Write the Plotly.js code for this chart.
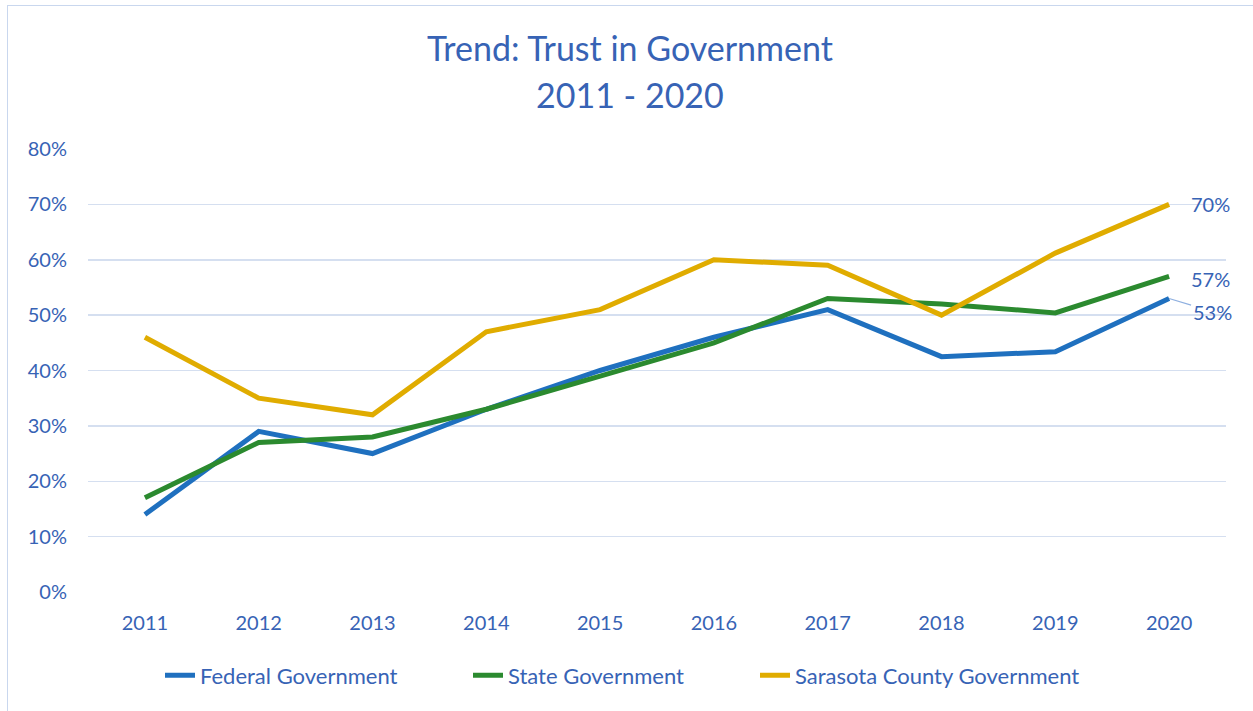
<!DOCTYPE html>
<html><head><meta charset="utf-8">
<script src="https://cdn.plot.ly/plotly-3.0.1.min.js"></script>
<style>
html,body{margin:0;padding:0;background:#fff;}
#frame{position:absolute;left:7px;top:5px;width:1260px;height:720px;border:1.5px solid #c9d7ee;box-sizing:border-box;}
#chart{position:absolute;left:0;top:0;width:1253px;height:711px;}
</style></head>
<body>
<div id="frame"></div>
<div id="chart"></div>
<script>
const years = ['2011','2012','2013','2014','2015','2016','2017','2018','2019','2020'];
const federal = [0.14,0.29,0.25,0.33,0.40,0.46,0.51,0.425,0.434,0.53];
const state = [0.17,0.27,0.28,0.33,0.39,0.45,0.53,0.52,0.504,0.57];
const sarasota = [0.46,0.35,0.32,0.47,0.51,0.60,0.59,0.50,0.612,0.70];
const seriesNames = ['Federal Government','State Government','Sarasota County Government'];
const titleLines = ['Trend: Trust in Government','2011 - 2020'];
const colors = ['#1f70bf','#2b8a2f','#e0ac00'];
const txt = '#3763b5';
const font = 'Lato, "Open Sans", sans-serif';
const legendIds = ['legend','legend2','legend3'];
const legendX = [160, 468, 755];

const traces = [federal, state, sarasota].map((v,i)=>({
  x: years, y: v, type:'scatter', mode:'lines', name: seriesNames[i], legend: legendIds[i],
  line:{color:colors[i], width:5}
}));

const last = years.length-1;
const pct = v => Math.round(v*100)+'%';
const layout = {
  width:1253, height:711,
  paper_bgcolor:'rgba(0,0,0,0)', plot_bgcolor:'rgba(0,0,0,0)',
  margin:{l:88, r:27, t:149, b:119},
  font:{family:font, color:txt},
  xaxis:{type:'category', range:[-0.5,9.5], showgrid:false, zeroline:false, showline:false,
         ticks:'', tickfont:{size:20, color:txt}, ticklabelstandoff:17},
  yaxis:{range:[0,0.8], dtick:0.1, tickformat:'.0%', gridcolor:'#d5dff0', gridwidth:1.5,
         zeroline:false, showline:false, tickfont:{size:20, color:txt}, ticklabelstandoff:20},
  showlegend:true,
  annotations:[
    {xref:'paper', yref:'paper', x:0.476, y:1.228, yanchor:'middle', text:titleLines[0], showarrow:false, font:{size:34,color:txt}},
    {xref:'paper', yref:'paper', x:0.476, y:1.122, yanchor:'middle', text:titleLines[1], showarrow:false, font:{size:34,color:txt}},
    {xref:'x', yref:'y', x:last, y:sarasota[last], text:pct(sarasota[last]), showarrow:false, xanchor:'left', xshift:20, font:{size:20,color:txt}},
    {xref:'x', yref:'y', x:last, y:state[last], text:pct(state[last]), showarrow:false, xanchor:'left', xshift:20, yshift:-3, font:{size:20,color:txt}},
    {xref:'x', yref:'y', x:last, y:federal[last], text:pct(federal[last]), showarrow:true, arrowhead:0, arrowwidth:1.2,
     arrowcolor:'#8fb0e0', ax:43, ay:13, font:{size:20,color:txt}}
  ]
};
legendIds.forEach((id,i)=>{
  layout[id] = {orientation:'h', xref:'container', yref:'container', x:legendX[i]/1253, xanchor:'left',
                y:0.05, yanchor:'middle', font:{size:22, color:txt, family:font}};
});
Plotly.newPlot('chart', traces, layout, {displayModeBar:false, staticPlot:true});
</script>
</body></html>
